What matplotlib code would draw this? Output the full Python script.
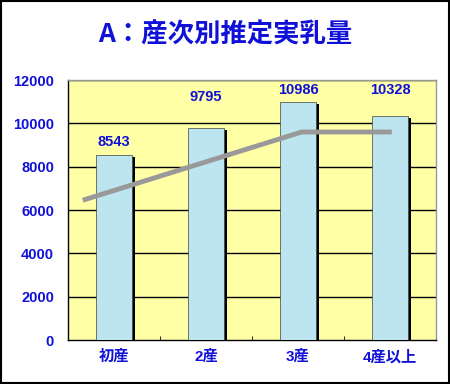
import matplotlib.pyplot as plt
import numpy as np

plt.rcParams['font.family'] = ['Liberation Sans', 'Noto Sans CJK JP', 'DejaVu Sans']

categories = ['初産', '2産', '3産', '4産以上']
milk = [8543, 9795, 10986, 10328]
# gray trend line (category position, value)
trend_x = [-0.34, 2.04, 3.02]
trend_y = [6450, 9600, 9600]
label_offsets = [9.5, 22.5, 8.7, 18.8]  # points from bar top to label centre

blue = '#1010D8'

fig = plt.figure(figsize=(4.5, 3.84), dpi=100)
fig.patch.set_facecolor('white')
ax = fig.add_axes([68 / 450, 1 - 340 / 384, 368 / 450, 260 / 384])
ax.set_facecolor('#FFFFA6')

x = np.arange(len(categories))
bw = 0.4

# grid behind bars
for v in range(2000, 12001, 2000):
    ax.axhline(v, color='black', linewidth=1.0, zorder=1)

# bar shadow then bar
ax.bar(x + 0.03, milk, bw, bottom=[-100] * 4, color='black', zorder=2)
bars = ax.bar(x, milk, bw, color='#BDE5EF', edgecolor='#404040', linewidth=0.5, zorder=3)

ax.plot(trend_x, trend_y, color='#999999', linewidth=3.5, zorder=4, solid_capstyle='butt')

for i, (rect, v) in enumerate(zip(bars, milk)):
    ax.annotate(f'{v}', (rect.get_x() + rect.get_width() / 2, v),
                textcoords='offset points', xytext=(0, label_offsets[i]),
                ha='center', va='center', fontsize=10.5, color=blue, fontweight='bold')

ax.set_xlim(-0.5, 3.5)
ax.set_ylim(0, 12000)
ax.set_yticks(range(0, 12001, 2000))
ax.set_xticks(x)
ax.set_xticklabels(categories)
ax.set_xticks(np.arange(-0.5, 3.6, 1), minor=True)
ax.tick_params(axis='x', which='major', length=0, pad=7)
ax.tick_params(axis='x', which='minor', length=3, direction='in')
ax.tick_params(axis='y', length=0, pad=10)
for lab in ax.get_yticklabels():
    lab.set_color(blue)
    lab.set_fontweight('bold')
    lab.set_fontsize(10.5)
for lab in ax.get_xticklabels():
    lab.set_color(blue)
    lab.set_fontweight('bold')
    lab.set_fontsize(11)
    lab.set_family(['Liberation Sans', 'Noto Sans CJK JP'])

for s in ['left', 'bottom']:
    ax.spines[s].set_color('black')
    ax.spines[s].set_linewidth(1.0)
for s in ['top', 'right']:
    ax.spines[s].set_color('#999999')
    ax.spines[s].set_linewidth(1.0)

fig.text(0.5, 1 - 35 / 384, 'A：産次別推定実乳量', ha='center', va='center',
         fontsize=19, color=blue, fontweight='bold',
         family=['Noto Sans CJK JP', 'DejaVu Sans'])

# figure border
fig.add_artist(plt.Rectangle((0.002, 0.003), 0.996, 0.994, transform=fig.transFigure,
                             fill=False, edgecolor='black', linewidth=1.5))

fig.savefig('out.png', dpi=100, facecolor=fig.get_facecolor())
